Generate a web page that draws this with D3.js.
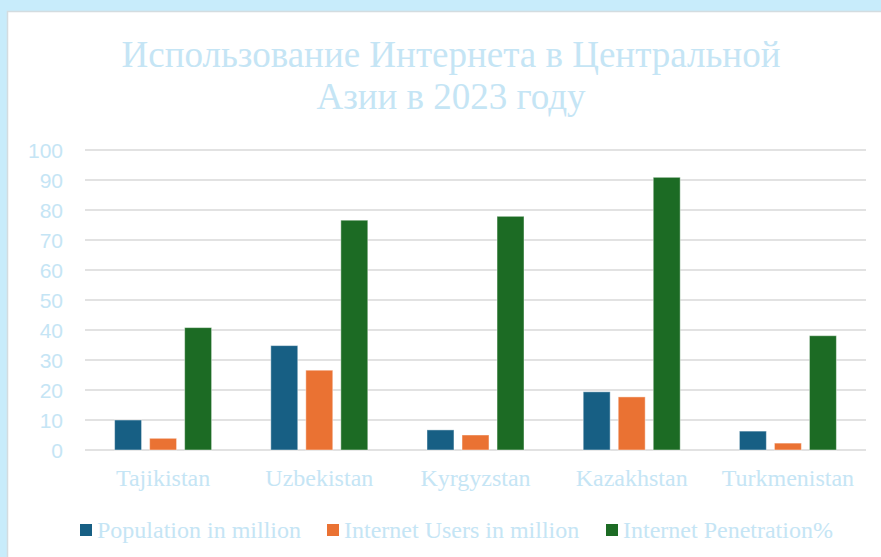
<!DOCTYPE html>
<html>
  <head>
    <meta charset="utf-8" />
    <script src="https://d3js.org/d3.v7.min.js"></script>
    <style>
      body { margin: 0; background: #C8ECFB; }
      .grid line { stroke: #D9D9D9; stroke-width: 1.5; }
      .ylab { font-family: "Liberation Sans", Arial, sans-serif; font-size: 21px; fill: #C5E5F5; }
      .serif { font-family: "Liberation Serif", "Times New Roman", serif; fill: #C5E5F5; }
    </style>
  </head>
  <body>
    <div id="chart"></div>
    <script type="text/javascript">

      var w = 881, h = 557;

      var countries = ["Tajikistan", "Uzbekistan", "Kyrgyzstan", "Kazakhstan", "Turkmenistan"];
      var seriesNames = ["Population in million", "Internet Users in million", "Internet Penetration%"];
      var population = [10, 34.8, 6.7, 19.4, 6.3];
      var users = [3.9, 26.6, 5.0, 17.7, 2.3];
      var penetration = [40.8, 76.6, 77.9, 90.9, 38.1];
      var colors = ["#175F84", "#EA7233", "#1C6B24"];
      var yTicks = [0, 10, 20, 30, 40, 50, 60, 70, 80, 90, 100];
      var titleLines = ["Использование Интернета в Центральной", "Азии в 2023 году"];

      var seriesValues = [population, users, penetration];

      var svg = d3.select("#chart").append("svg")
        .attr("width", w).attr("height", h)
        .style("display", "block");

      // white panel with a faint edge
      svg.append("rect").attr("x", 7.5).attr("y", 11.5)
        .attr("width", w).attr("height", h)
        .attr("fill", "#fff").attr("stroke", "#D3DCE0").attr("stroke-width", 1.5);

      var plotL = 85, plotR = 866, plotT = 150, plotB = 450;

      var y = d3.scaleLinear().domain([0, 100]).range([plotB, plotT]);
      var x0 = d3.scaleBand().domain(countries).range([plotL, plotR]);
      var bw = x0.bandwidth(), groupW = 97;
      var x1 = d3.scaleBand().domain(d3.range(3))
        .range([(bw - groupW) / 2, (bw + groupW) / 2]).paddingInner(0.23);

      // title
      svg.append("g").selectAll("text").data(titleLines).enter().append("text")
        .attr("class", "serif").attr("x", 451).attr("y", function(d, i) { return 67 + i * 42; })
        .attr("text-anchor", "middle").style("font-size", "37px")
        .text(function(d) { return d; });

      // gridlines + y labels
      var grid = svg.append("g").attr("class", "grid");
      grid.selectAll("line").data(yTicks).enter().append("line")
        .attr("x1", plotL).attr("x2", plotR)
        .attr("y1", function(d) { return y(d); }).attr("y2", function(d) { return y(d); });
      svg.append("g").selectAll("text").data(yTicks).enter().append("text")
        .attr("class", "ylab").attr("x", 63).attr("y", function(d) { return y(d); })
        .attr("dy", "0.36em").attr("text-anchor", "end")
        .text(function(d) { return d; });

      // bars
      var groups = svg.append("g").selectAll("g").data(countries).enter().append("g")
        .attr("transform", function(d) { return "translate(" + x0(d) + ",0)"; });
      groups.selectAll("rect").data(function(d, ci) {
          return seriesValues.map(function(s, si) { return { si: si, v: s[ci] }; });
        }).enter().append("rect")
        .attr("x", function(d) { return x1(d.si); })
        .attr("width", x1.bandwidth())
        .attr("y", function(d) { return y(d.v); })
        .attr("height", function(d) { return y(0) - y(d.v); })
        .attr("fill", function(d) { return colors[d.si]; })
        .attr("stroke", "#ffffff").attr("stroke-opacity", 0.45).attr("stroke-width", 1);

      // x labels
      svg.append("g").selectAll("text").data(countries).enter().append("text")
        .attr("class", "serif").style("font-size", "24px")
        .attr("x", function(d) { return x0(d) + bw / 2; }).attr("y", 486)
        .attr("text-anchor", "middle").text(function(d) { return d; });

      // legend
      var legendX = [80, 327, 606];
      var leg = svg.append("g").selectAll("g").data(seriesNames).enter().append("g")
        .attr("transform", function(d, i) { return "translate(" + legendX[i] + ",524)"; });
      leg.append("rect").attr("width", 12).attr("height", 12)
        .attr("fill", function(d, i) { return colors[i]; });
      leg.append("text").attr("class", "serif").style("font-size", "24px")
        .attr("x", 17).attr("y", 14).text(function(d) { return d; });

    </script>
  </body>
</html>
